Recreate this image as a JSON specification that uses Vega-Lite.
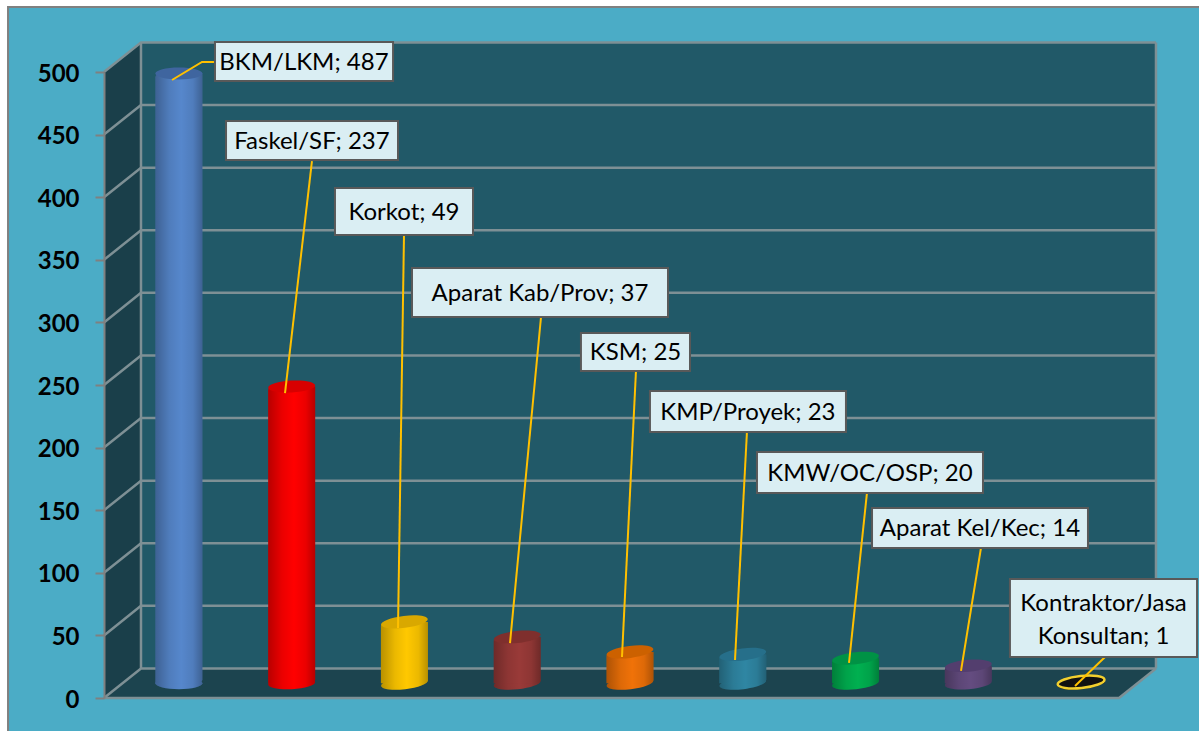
{
"$schema":"https://vega.github.io/schema/vega-lite/v6.json",
"width":1015,"height":626,
"autosize":"none",
"padding":{"left":104,"top":72,"right":80,"bottom":33},
"background":"#ffffff",
"config":{"view":{"stroke":null}},
"datasets":{
"bars":[
{"cat":"BKM/LKM","value":487},
{"cat":"Faskel/SF","value":237},
{"cat":"Korkot","value":49},
{"cat":"Aparat Kab/Prov","value":37},
{"cat":"KSM","value":25},
{"cat":"KMP/Proyek","value":23},
{"cat":"KMW/OC/OSP","value":20},
{"cat":"Aparat Kel/Kec","value":14},
{"cat":"Kontraktor/Jasa Konsultan","value":1}
],
"labels":[
{"label":"BKM/LKM; 487","x1":0.984,"x2":2.563,"y1":524.0,"y2":492.8,"tx":1.773,"ty":508},
{"label":"Faskel/SF; 237","x1":1.082,"x2":2.607,"y1":460.9,"y2":429.7,"tx":1.844,"ty":444.9},
{"label":"Korkot; 49","x1":2.048,"x2":3.272,"y1":407.3,"y2":369.8,"tx":2.66,"ty":388.2},
{"label":"Aparat Kab/Prov; 37","x1":2.731,"x2":5.001,"y1":343.5,"y2":304.3,"tx":3.866,"ty":323.5},
{"label":"KSM; 25","x1":4.229,"x2":5.196,"y1":291.5,"y2":261.2,"tx":4.713,"ty":276.4},
{"label":"KMP/Proyek; 23","x1":4.841,"x2":6.579,"y1":245.2,"y2":212.5,"tx":5.71,"ty":228.8},
{"label":"KMW/OC/OSP; 20","x1":5.79,"x2":7.794,"y1":196.5,"y2":163.7,"tx":6.792,"ty":180.1},
{"label":"Aparat Kel/Kec; 14","x1":6.81,"x2":8.725,"y1":151.8,"y2":119.8,"tx":7.767,"ty":135.8},
{"label":"Kontraktor/Jasa\nKonsultan; 1","x1":8.033,"x2":9.692,"y1":95,"y2":32.7,"tx":8.863,"ty":76}
],
"leaders":[
{"g":"a","x":0.603,"y":493.6},{"g":"a","x":0.869,"y":508},{"g":"a","x":0.984,"y":508},
{"g":"b","x":1.605,"y":243.6},{"g":"b","x":1.844,"y":428.9},
{"g":"c","x":2.607,"y":55.9},{"g":"c","x":2.66,"y":369.8},
{"g":"d","x":3.6,"y":43.9},{"g":"d","x":3.875,"y":304.3},
{"g":"e","x":4.593,"y":32.7},{"g":"e","x":4.717,"y":261.2},
{"g":"f","x":5.595,"y":30.4},{"g":"f","x":5.701,"y":212.5},
{"g":"h","x":6.606,"y":28},{"g":"h","x":6.765,"y":163.7},
{"g":"i","x":7.599,"y":21.6},{"g":"i","x":7.776,"y":119.8},
{"g":"j","x":8.61,"y":9.6},{"g":"j","x":8.876,"y":32.7}
],
"grid":[
{"g":"0","x":0,"y":0},{"g":"0","x":0.328,"y":23.6},{"g":"0","x":9.328,"y":23.6},
{"g":"50","x":0,"y":50},{"g":"50","x":0.328,"y":73.6},{"g":"50","x":9.328,"y":73.6},
{"g":"100","x":0,"y":100},{"g":"100","x":0.328,"y":123.6},{"g":"100","x":9.328,"y":123.6},
{"g":"150","x":0,"y":150},{"g":"150","x":0.328,"y":173.6},{"g":"150","x":9.328,"y":173.6},
{"g":"200","x":0,"y":200},{"g":"200","x":0.328,"y":223.6},{"g":"200","x":9.328,"y":223.6},
{"g":"250","x":0,"y":250},{"g":"250","x":0.328,"y":273.6},{"g":"250","x":9.328,"y":273.6},
{"g":"300","x":0,"y":300},{"g":"300","x":0.328,"y":323.6},{"g":"300","x":9.328,"y":323.6},
{"g":"350","x":0,"y":350},{"g":"350","x":0.328,"y":373.6},{"g":"350","x":9.328,"y":373.6},
{"g":"400","x":0,"y":400},{"g":"400","x":0.328,"y":423.6},{"g":"400","x":9.328,"y":423.6},
{"g":"450","x":0,"y":450},{"g":"450","x":0.328,"y":473.6},{"g":"450","x":9.328,"y":473.6},
{"g":"500","x":0,"y":500},{"g":"500","x":0.328,"y":523.6},{"g":"500","x":9.328,"y":523.6},
{"g":"front","x":0,"y":0},{"g":"front","x":9,"y":0},{"g":"front","x":9.328,"y":23.6},
{"g":"back","x":0.328,"y":23.6},{"g":"back","x":0.328,"y":523.6},
{"g":"right","x":9.328,"y":23.6},{"g":"right","x":9.328,"y":523.6}
]
},
"resolve":{"scale":{"x":"independent","y":"independent","fill":"independent"}},
"layer":[
{
"layer":[
{"data":{"values":[{"x":-0.851,"x2":9.9,"y":551.9,"y2":-30}]},
 "mark":{"type":"rect","fill":"#4BACC6","stroke":"#808080","strokeWidth":2,"clip":false},
 "encoding":{"x":{"field":"x","type":"quantitative","scale":{"domain":[0,9],"nice":false},"axis":null},"x2":{"field":"x2"},
 "y":{"field":"y","type":"quantitative","scale":{"domain":[0,500],"nice":false},"axis":null},"y2":{"field":"y2"}}},
{"data":{"values":[{"x":0.328,"x2":9.328,"y":523.6,"y2":23.6}]},
 "mark":{"type":"rect","fill":"#215968"},
 "encoding":{"x":{"field":"x","type":"quantitative","scale":{"domain":[0,9],"nice":false},"axis":null},"x2":{"field":"x2"},
 "y":{"field":"y","type":"quantitative","scale":{"domain":[0,500],"nice":false},"axis":null},"y2":{"field":"y2"}}},
{"data":{"values":[{"x":0,"y":0,"y2":500},{"x":0.328,"y":23.6,"y2":523.6}]},
 "mark":{"type":"area","fill":"#1A3F4A","clip":false},
 "encoding":{"x":{"field":"x","type":"quantitative","scale":{"domain":[0,9],"nice":false},"axis":null},
 "y":{"field":"y","type":"quantitative","scale":{"domain":[0,500],"nice":false},"axis":null,"stack":null},"y2":{"field":"y2"}}},
{"data":{"values":[{"y":0,"x":0,"x2":9},{"y":23.6,"x":0.328,"x2":9.328}]},
 "mark":{"type":"area","orient":"horizontal","fill":"#1C444F","clip":false},
 "encoding":{"y":{"field":"y","type":"quantitative","scale":{"domain":[0,500],"nice":false},"axis":null},
 "x":{"field":"x","type":"quantitative","scale":{"domain":[0,9],"nice":false},"axis":null,"stack":null},"x2":{"field":"x2"}}},
{"data":{"name":"grid"},
 "mark":{"type":"line","stroke":"#7E9095","strokeWidth":2.5,"clip":false},
 "encoding":{"detail":{"field":"g"},
 "x":{"field":"x","type":"quantitative","scale":{"domain":[0,9],"nice":false},"axis":null},
 "y":{"field":"y","type":"quantitative","scale":{"domain":[0,500],"nice":false},"stack":null,"axis":null}}}
]
},
{
"data":{"name":"bars"},
"encoding":{
 "x":{"field":"cat","type":"nominal","sort":null,"axis":null,"scale":{"range":[18.5,1033.5],"paddingInner":0,"paddingOuter":0}}
},
"layer":[
{"mark":{"type":"point","filled":true,"opacity":1,"size":2209,"shape":"M-1,0 C-1,-0.14 -0.55,-0.255 0,-0.255 C0.55,-0.255 1,-0.14 1,0 C1,0.14 0.55,0.255 0,0.255 C-0.55,0.255 -1,0.14 -1,0 Z","clip":false},
 "encoding":{"y":{"datum":0,"type":"quantitative","axis":null,"scale":{"domain":[0,500],"nice":false,"range":[611.25,-14.75]}},
 "angle":{"field":"value","type":"quantitative","legend":null,"scale":{"type":"threshold","domain":[2,15,21,24,26,38,50,238],"range":[-6,-5,-6,-7,-7,-6,-7,-3,0]}},
 "fill":{"field":"cat","type":"nominal","sort":null,"legend":null,"scale":{"range":["#5687CC","#FF0000","#FFC800","#993A38","#F07208","#2F86A3","#00B050","#644C80","#111111"]}}}},
{"mark":{"type":"point","filled":true,"opacity":1,"size":2209,"shape":"M-1,0 C-1,-0.14 -0.55,-0.255 0,-0.255 C0.55,-0.255 1,-0.14 1,0 C1,0.14 0.55,0.255 0,0.255 C-0.55,0.255 -1,0.14 -1,0 Z","clip":false,
 "fill":{"gradient":"linear","x1":0,"x2":1,"y1":0,"y2":0,"stops":[{"offset":0,"color":"rgba(0,0,0,0.28)"},{"offset":0.3,"color":"rgba(0,0,0,0.08)"},{"offset":0.55,"color":"rgba(0,0,0,0)"},{"offset":0.8,"color":"rgba(0,0,0,0.08)"},{"offset":1,"color":"rgba(0,0,0,0.28)"}]}},
 "encoding":{"y":{"datum":0,"type":"quantitative","axis":null,"scale":{"domain":[0,500],"nice":false,"range":[611.25,-14.75]}},
 "angle":{"field":"value","type":"quantitative","legend":null,"scale":{"type":"threshold","domain":[2,15,21,24,26,38,50,238],"range":[-6,-5,-6,-7,-7,-6,-7,-3,0]}}}},
{"mark":{"type":"bar","size":47,"clip":false,"cornerRadiusTopLeft":4,"cornerRadiusBottomRight":4},
 "encoding":{"y":{"field":"value","type":"quantitative","axis":null,"stack":null,"scale":{"domain":[0,500],"nice":false,"range":[611.25,-14.75]}},
 "fill":{"field":"cat","type":"nominal","sort":null,"legend":null,"scale":{"range":["#5687CC","#FF0000","#FFC800","#993A38","#F07208","#2F86A3","#00B050","#644C80","#111111"]}}}},
{"mark":{"type":"bar","size":47,"clip":false,"cornerRadiusTopLeft":4,"cornerRadiusBottomRight":4,
 "fill":{"gradient":"linear","x1":0,"x2":1,"y1":0,"y2":0,"stops":[{"offset":0,"color":"rgba(0,0,0,0.28)"},{"offset":0.3,"color":"rgba(0,0,0,0.08)"},{"offset":0.55,"color":"rgba(0,0,0,0)"},{"offset":0.8,"color":"rgba(0,0,0,0.08)"},{"offset":1,"color":"rgba(0,0,0,0.28)"}]}},
 "encoding":{"y":{"field":"value","type":"quantitative","axis":null,"stack":null,"scale":{"domain":[0,500],"nice":false,"range":[611.25,-14.75]}}}},
{"mark":{"type":"point","filled":true,"opacity":1,"size":2209,"shape":"M-1,0 C-1,-0.14 -0.55,-0.255 0,-0.255 C0.55,-0.255 1,-0.14 1,0 C1,0.14 0.55,0.255 0,0.255 C-0.55,0.255 -1,0.14 -1,0 Z","clip":false},
 "encoding":{"y":{"field":"value","type":"quantitative","axis":null,"scale":{"domain":[0,500],"nice":false,"range":[611.25,-14.75]}},
 "angle":{"field":"value","type":"quantitative","legend":null,"scale":{"type":"threshold","domain":[2,15,21,24,26,38,50,238],"range":[-6,-5,-6,-7,-7,-6,-7,-3,0]}},
 "fill":{"field":"cat","type":"nominal","sort":null,"legend":null,"scale":{"range":["#3F659F","#D80000","#D9A800","#7F2F2D","#CC6100","#266F8A","#009245","#533E6E","#111111"]}},
 "stroke":{"field":"cat","type":"nominal","sort":null,"legend":null,"scale":{"range":["transparent","transparent","transparent","transparent","transparent","transparent","transparent","transparent","#F2CF2E"]}},
 "strokeWidth":{"value":2.5}}}
],
"resolve":{"scale":{"fill":"independent"}}
},
{
"layer":[
{"data":{"name":"leaders"},
 "mark":{"type":"line","stroke":"#FFC000","strokeWidth":2,"clip":false},
 "encoding":{"detail":{"field":"g"},
 "x":{"field":"x","type":"quantitative","scale":{"domain":[0,9],"nice":false},"axis":null},
 "y":{"field":"y","type":"quantitative","scale":{"domain":[0,500],"nice":false},"axis":null,"stack":null}}},
{"data":{"name":"labels"},
 "mark":{"type":"rect","fill":"#DAEEF3","stroke":"#595959","strokeWidth":2,"clip":false},
 "encoding":{"x":{"field":"x1","type":"quantitative","scale":{"domain":[0,9],"nice":false},"axis":null},"x2":{"field":"x2"},
 "y":{"field":"y1","type":"quantitative","scale":{"domain":[0,500],"nice":false},"axis":null},"y2":{"field":"y2"}}},
{"data":{"name":"labels"},
 "mark":{"type":"text","font":"Lato","fontSize":24,"dy":1,"color":"#000000","align":"center","baseline":"middle","lineBreak":"\n","lineHeight":33,"clip":false},
 "encoding":{"text":{"field":"label"},
 "x":{"field":"tx","type":"quantitative","scale":{"domain":[0,9],"nice":false},"axis":null},
 "y":{"field":"ty","type":"quantitative","scale":{"domain":[0,500],"nice":false},"axis":null}}}
]
},
{"data":{"values":[{"tick":0},{"tick":500}]},
 "mark":{"type":"point","opacity":0},
 "encoding":{"y":{"field":"tick","type":"quantitative","scale":{"domain":[0,500],"nice":false},
 "axis":{"title":null,"values":[0,50,100,150,200,250,300,350,400,450,500],"grid":false,"domainColor":"#808080","domainWidth":2,"tickColor":"#808080","tickWidth":2,"tickSize":9,"labelPadding":16,"labelOffset":2,"labelFont":"Lato","labelFontWeight":"bold","labelFontSize":24,"labelColor":"#000000","zindex":1}}}}
]
}
